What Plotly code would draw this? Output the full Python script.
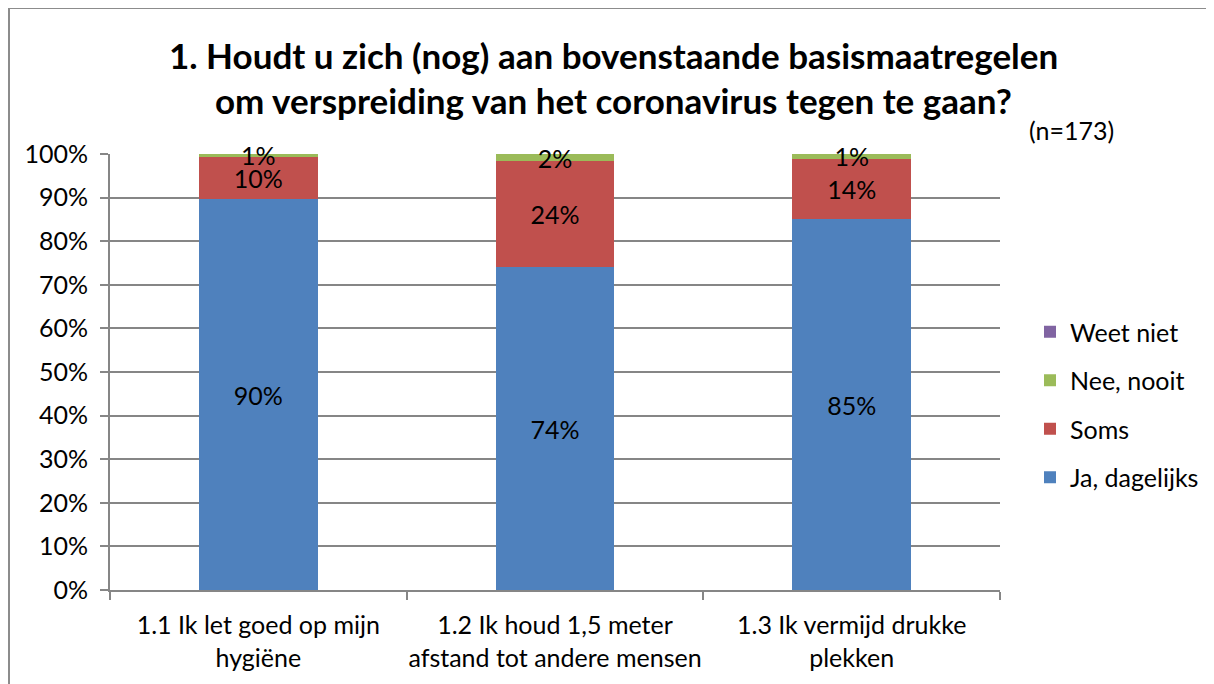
import plotly.graph_objects as go

categories = [
    "1.1 Ik let goed op mijn<br>hygiëne",
    "1.2 Ik houd 1,5 meter<br>afstand tot andere mensen",
    "1.3 Ik vermijd drukke<br>plekken",
]
series_names = ["Ja, dagelijks", "Soms", "Nee, nooit", "Weet niet"]
ja_dagelijks = [89.6, 74.0, 85.0]
soms = [9.8, 24.3, 13.9]
nee_nooit = [0.6, 1.7, 1.1]
weet_niet = [0.0, 0.0, 0.0]
colors = ["#4F81BD", "#C0504D", "#9BBB59", "#8064A2"]
legend_ranks = [4, 3, 2, 1]
y_ticks = [0, 10, 20, 30, 40, 50, 60, 70, 80, 90, 100]
y_ticklabels = [f"{v}%" for v in y_ticks]

FONT = "Lato, 'Open Sans', sans-serif"

fig = go.Figure()
for i, (name, vals) in enumerate(zip(series_names, [ja_dagelijks, soms, nee_nooit, weet_niet])):
    texts = [f"{round(v):.0f}%" if v > 0 else "" for v in vals]
    fig.add_trace(go.Bar(
        x=categories, y=vals, name=name,
        marker=dict(color=colors[i], line=dict(width=0)),
        text=texts, texttemplate="%{text}",
        textposition="inside", insidetextanchor="middle",
        constraintext="none", cliponaxis=False,
        textfont=dict(family=FONT, size=25, color="black"),
        legendgroup=name, legendrank=legend_ranks[i],
    ))

# page body has an 8px margin; work in screen coordinates and shift
O = 8
W, H = 1214 - O, 684 - O
L, R, T, B = 110 - O, 1000 - O, 154 - O, 590 - O
pw, ph = R - L, B - T

def px(x):
    return (x - O - L) / pw

def py(y):
    return (B - (y - O)) / ph

fig.update_layout(
    width=W, height=H,
    margin=dict(l=L, r=W - R, t=T, b=H - B, autoexpand=False),
    barmode="stack", bargap=0.6,
    plot_bgcolor="white", paper_bgcolor="white",
    font=dict(family=FONT, size=25, color="black"),
    showlegend=True,
    legend=dict(
        x=px(1030), y=py(309), xanchor="left", yanchor="top",
        traceorder="grouped", tracegroupgap=13,
        font=dict(family=FONT, size=25, color="black"),
        itemwidth=30, bgcolor="rgba(0,0,0,0)",
    ),
    xaxis=dict(
        showline=True, linecolor="#868686", linewidth=2,
        ticks="outside", tickson="boundaries", ticklen=8, tickcolor="#868686", tickwidth=2,
        showgrid=False, tickfont=dict(family=FONT, size=25, color="black"),
        tickangle=0, ticklabelstandoff=12,
        fixedrange=True,
    ),
    yaxis=dict(
        range=[0, 100], tickvals=y_ticks, ticktext=y_ticklabels,
        showline=True, linecolor="#868686", linewidth=2,
        ticks="outside", ticklen=8, tickcolor="#868686", tickwidth=2,
        showgrid=True, gridcolor="#868686", gridwidth=2,
        zeroline=False, ticklabelstandoff=7,
        tickfont=dict(family=FONT, size=25, color="black"),
        fixedrange=True,
    ),
    annotations=[
        dict(text="<b>1. Houdt u zich (nog) aan bovenstaande basismaatregelen</b>",
             x=px(613), y=py(55), xref="paper", yref="paper", showarrow=False,
             font=dict(family=FONT, size=35, color="black"), xanchor="center", yanchor="middle"),
        dict(text="<b>om verspreiding van het coronavirus tegen te gaan?</b>",
             x=px(613), y=py(100), xref="paper", yref="paper", showarrow=False,
             font=dict(family=FONT, size=35, color="black"), xanchor="center", yanchor="middle"),
        dict(text="(n=173)", x=px(1071), y=py(130), xref="paper", yref="paper", showarrow=False,
             font=dict(family=FONT, size=25, color="black"), xanchor="center", yanchor="middle"),
    ],
    shapes=[
        dict(type="line", xref="paper", yref="paper",
             x0=px(9), x1=px(1214), y0=py(8), y1=py(8),
             line=dict(color="#8c8c8c", width=2), layer="below"),
        dict(type="line", xref="paper", yref="paper",
             x0=px(9), x1=px(9), y0=py(8), y1=py(684),
             line=dict(color="#8c8c8c", width=2), layer="below"),
    ],
)

fig.write_html("out.html")
